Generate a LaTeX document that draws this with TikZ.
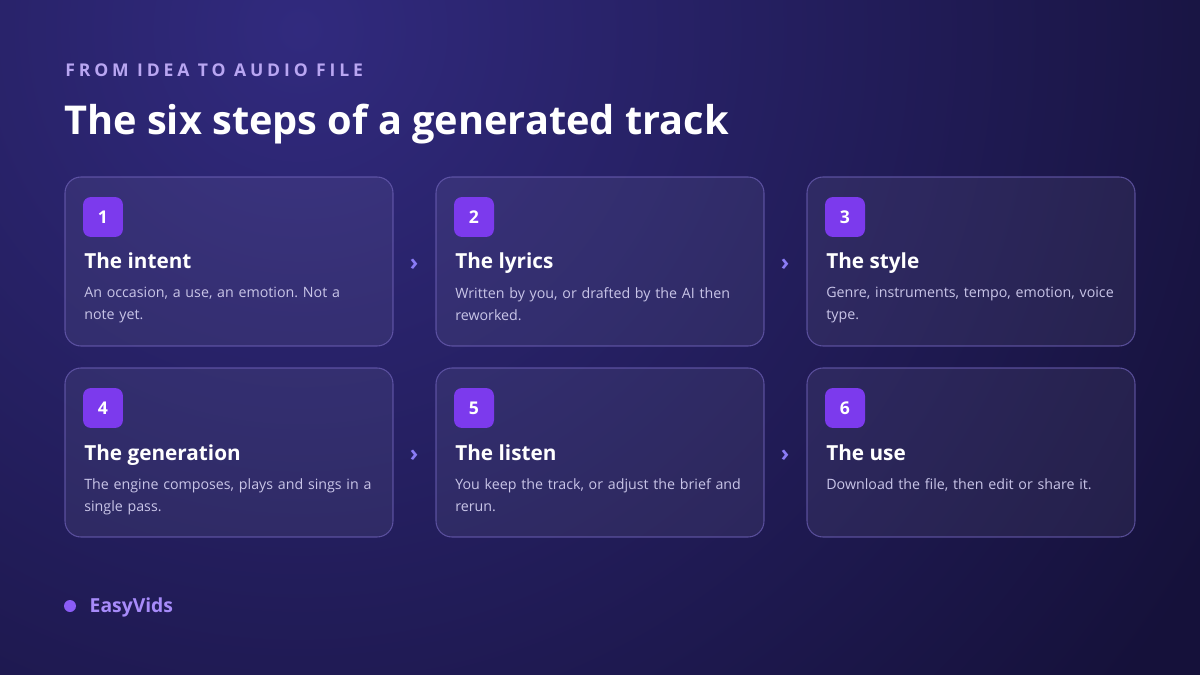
\documentclass[tikz,border=0pt]{standalone}
\usepackage{fontspec}
\setmainfont{Open Sans}
\newfontfamily\capsfont[LetterSpace=22]{Open Sans}
\usetikzlibrary{positioning}
\frenchspacing

\definecolor{bgdark}{HTML}{15113A}
\definecolor{bgglow}{HTML}{312A7E}
\definecolor{badge}{HTML}{7C3AED}
\definecolor{desctext}{HTML}{C9C5E8}
\definecolor{kicker}{HTML}{B9A6F2}
\definecolor{chev}{HTML}{8B7CF6}
\definecolor{dotc}{HTML}{8B5CF6}
\definecolor{brand}{HTML}{A78BFA}
\definecolor{cardline}{HTML}{6F62B8}

\tikzset{
  card/.style={fill=white,fill opacity=.06,draw=cardline,draw opacity=.7,line width=.6pt,rounded corners=.32cm},
  badgebox/.style={fill=badge,rounded corners=.16cm,minimum width=.8cm,minimum height=.8cm,inner sep=0,
    text=white,font=\bfseries\fontsize{10}{12}\selectfont},
  cardtitle/.style={anchor=base west,inner sep=0,text=white,font=\bfseries\fontsize{11.8}{14}\selectfont},
  carddesc/.style={anchor=north west,inner sep=0,text=desctext,align=left,text width=7cm,
    font=\fontsize{8.1}{12.5}\selectfont},
  chevron/.style={text=chev,font=\bfseries\fontsize{13}{15}\selectfont,inner sep=0}
}

\begin{document}
\begin{tikzpicture}[x=.02cm,y=-.02cm]

\useasboundingbox (0,0) rectangle (1200,675);
\fill[bgdark] (0,0) rectangle (1200,675);
\begin{scope}
\clip (0,0) rectangle (1200,675);
\shade[inner color=bgglow,outer color=bgdark] (300,30) circle (1050);
\end{scope}

\node[anchor=base west,inner sep=0,text=kicker,font=\capsfont\bfseries\fontsize{10}{12}\selectfont]
  (kick) at (65,77) {FROM IDEA TO AUDIO FILE};
\node[anchor=base west,inner sep=0,text=white,font=\bfseries\fontsize{22.6}{26}\selectfont]
  (head) at (64,135) {The six steps of a generated track};

\foreach \n/\cx/\cy/\ttl/\dsc in {
  1/65/177/{The intent}/{An occasion, a use, an emotion. Not a\\note yet.},
  2/436/177/{The lyrics}/{Written by you, or drafted by the AI then\\reworked.},
  3/807/177/{The style}/{Genre, instruments, tempo, emotion, voice\\type.},
  4/65/368/{The generation}/{The engine composes, plays and sings in a\\single pass.},
  5/436/368/{The listen}/{You keep the track, or adjust the brief and\\rerun.},
  6/807/368/{The use}/{Download the file, then edit or share it.}}
{
  \draw[card] (\cx,\cy) rectangle (\cx+328,\cy+169);
  \node[badgebox] (badge\n) at (\cx+38,\cy+40) {\n};
  \node[cardtitle] (title\n) at (\cx+19,\cy+92) {\ttl};
  \node[carddesc] (desc\n) at (\cx+19,\cy+110) {\dsc};
}

% arrows between cards
\foreach \row/\cy in {1/177,2/368}
{
  \node[chevron] (chevA\row) at (414,\cy+88) {›};
  \node[chevron] (chevB\row) at (785,\cy+88) {›};
}

\fill[dotc] (70,606) circle (6) coordinate (dot);
\node[anchor=west,inner sep=0,text=brand,font=\bfseries\fontsize{11}{13}\selectfont,right=11pt of dot,yshift=-1pt]
  (logo) {EasyVids};

\end{tikzpicture}
\end{document}
